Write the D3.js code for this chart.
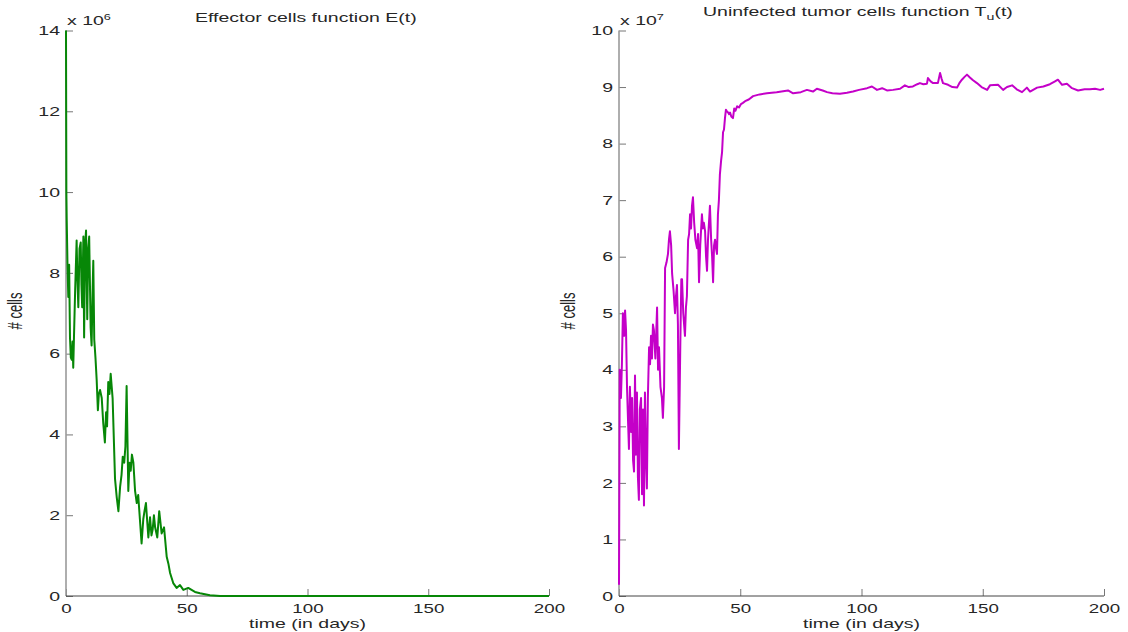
<!DOCTYPE html>
<html>
<head>
<meta charset="utf-8">
<script src="https://cdn.jsdelivr.net/npm/d3@7"></script>
<style>
  body { margin: 0; background: #fff; }
  svg text { font-family: "Liberation Sans", Arial, sans-serif; fill: #262626; }
</style>
</head>
<body>
<svg width="1128" height="632"></svg>
<script>
// x ticks shared by both panels
const xTicks = [0, 50, 100, 150, 200];

// Effector cells E(t), values in units of 1e6
const eTime = [0, 0.15, 0.3, 0.6, 0.95, 1.3, 1.65, 2.0, 2.4, 2.7, 3.0, 3.3, 3.8, 4.4, 4.7, 5.1, 5.6, 6.1, 6.4, 6.7,
  7.0, 7.2, 7.5, 7.9, 8.3, 8.8, 9.2, 9.6, 10.2, 10.6, 11.0, 11.3, 11.7, 12.2, 12.7, 13.2, 13.6, 14.1, 14.8, 15.4,
  16.1, 16.6, 17.0, 17.5, 18.0, 18.5, 19.3, 20.3, 21.0, 21.7, 22.4, 23.0, 23.5, 24.1, 24.6, 25.1, 25.8, 26.3, 26.8, 27.3,
  27.9, 28.6, 29.3, 29.9, 30.6, 31.3, 32.0, 32.5, 33.1, 34.1, 34.8, 35.4, 35.9, 36.4, 36.9, 37.8, 38.6, 39.6, 40.6, 41.7,
  42.4, 43.1, 44.4, 45.8, 47.2, 48.6, 50.6, 53.4, 55.5, 59.6, 63.8, 200];
const eCells = [14, 10, 9.3, 8.25, 7.4, 8.2, 6.4, 5.9, 5.85, 6.3, 5.65, 6.4, 7.6, 8.8, 7.9, 7.15, 8.6, 8.75, 7.7, 7.15,
  8.2, 8.9, 6.4, 8.7, 9.05, 6.85, 8.6, 8.9, 6.65, 6.2, 7.5, 8.3, 6.35, 5.9, 5.35, 4.6, 5.0, 5.1, 4.9, 4.3,
  3.8, 4.55, 4.2, 5.3, 5.0, 5.5, 4.9, 2.9, 2.45, 2.1, 2.7, 3.0, 3.45, 3.3, 3.7, 5.2, 2.6, 3.3, 3.1, 3.5,
  3.3, 2.6, 2.3, 2.5, 1.9, 1.3, 1.9, 2.1, 2.3, 1.45, 1.95, 1.5, 1.65, 2.0, 1.7, 1.45, 2.1, 1.55, 1.7, 0.97,
  0.8, 0.57, 0.32, 0.2, 0.27, 0.15, 0.2, 0.1, 0.07, 0.02, 0, 0];
const eTicks = [0, 2, 4, 6, 8, 10, 12, 14];

// Uninfected tumor cells Tu(t), values in units of 1e7
const tTime = [0, 0.3, 0.8, 1.2, 1.6, 2.1, 2.5, 2.9, 3.3, 3.8, 4.1, 4.5, 5.0, 5.4, 5.8, 6.2, 6.6, 7.0, 7.4, 7.8,
  8.2, 8.6, 9.1, 9.5, 9.9, 10.3, 10.7, 11.1, 11.5, 11.9, 12.4, 12.8, 13.2, 13.6, 14.0, 14.4, 15.0, 15.7, 16.1, 16.5,
  17.1, 17.7, 18.1, 18.6, 19.0, 19.6, 20.2, 20.6, 21.0, 21.5, 21.9, 22.5, 23.1, 23.5, 23.9, 24.3, 24.7, 25.3, 25.7, 26.0,
  26.5, 27.2, 27.6, 28.0, 28.5, 28.9, 29.3, 29.7, 30.1, 30.5, 31.0, 31.5, 32.2, 32.6, 33.0, 33.5, 34.2, 34.6, 35.0, 35.5,
  35.9, 36.3, 36.7, 37.1, 37.5, 38.0, 38.4, 38.8, 39.2, 39.6, 40.0, 40.4, 40.8, 41.2, 41.6, 42.1, 42.5, 42.9, 43.3, 43.7,
  44.1, 44.5, 45.0, 45.4, 45.8, 46.3, 47.0, 47.5, 48.0, 48.7, 49.5, 50.3, 51.1, 52.0, 53.5, 55.3, 58, 61, 65, 69.7,
  71.8, 75, 77.5, 80, 81.6, 84, 85.8, 88, 91.1, 94, 96.5, 99, 102.3, 104.3, 106.4, 108.5, 110.5, 113, 115.9, 117.9,
  119.5, 121.2, 123, 124.1, 125.5, 127, 127.4, 128.5, 129.5, 131.5, 132.4, 133, 133.6, 135.7, 137.5, 139.4, 140.5, 141.4, 142.5, 143.5,
  144.7, 146, 147.6, 149.5, 151.8, 153, 156.3, 158.4, 160, 162.1, 164, 166.2, 168.2, 169.5, 172.4, 175, 177.7, 179.8, 181, 182.7,
  184.7, 186.8, 189.3, 192, 194.2, 196.3, 198.4, 200];
const tCells = [0.2, 4.0, 3.5, 4.1, 5.0, 4.6, 5.05, 4.7, 3.7, 3.0, 2.6, 3.7, 2.9, 3.5, 2.4, 2.2, 3.9, 2.5, 3.6, 2.1,
  1.7, 3.3, 3.5, 1.8, 3.3, 1.6, 3.6, 2.5, 1.9, 3.5, 4.4, 4.1, 4.6, 4.2, 4.8, 4.7, 4.2, 5.1, 4.0, 4.4,
  3.7, 3.5, 3.15, 3.7, 5.8, 5.9, 6.05, 6.3, 6.45, 6.2, 5.7, 5.4, 5.0, 5.3, 5.5, 4.8, 2.6, 4.5, 5.6, 5.6,
  5.0, 4.6, 5.1, 5.3, 6.3, 6.4, 6.75, 6.5, 6.9, 7.05, 6.6, 6.3, 6.15, 6.4, 5.55, 6.2, 6.75, 6.5, 6.6, 6.45,
  6.0, 5.75, 6.3, 6.6, 6.9, 6.3, 6.0, 5.55, 6.2, 6.3, 6.15, 6.05, 6.75, 7.0, 7.45, 7.7, 7.85, 8.2, 8.25, 8.45,
  8.6, 8.57, 8.55, 8.52, 8.55, 8.48, 8.45, 8.62, 8.58, 8.66, 8.64, 8.7, 8.72, 8.75, 8.78, 8.84, 8.87, 8.89, 8.91, 8.94,
  8.89, 8.91, 8.95, 8.92, 8.97, 8.94, 8.91, 8.89, 8.88, 8.9, 8.92, 8.95, 8.98, 9.01, 8.95, 8.98, 8.94, 8.95, 8.97, 9.03,
  9.0, 9.01, 9.05, 9.07, 9.05, 9.06, 9.16, 9.1, 9.07, 9.07, 9.25, 9.15, 9.07, 9.04, 9.0, 8.99, 9.08, 9.13, 9.18, 9.22,
  9.17, 9.12, 9.07, 9.0, 8.95, 9.03, 9.04, 8.95, 9.0, 9.03, 8.96, 8.91, 8.99, 8.92, 8.99, 9.01, 9.05, 9.1, 9.13, 9.04,
  9.06, 8.98, 8.94, 8.96, 8.96, 8.97, 8.95, 8.97];
const tTicks = [0, 1, 2, 3, 4, 5, 6, 7, 8, 9, 10];

var svg = d3.select("svg");
var SX = 1.5; // the reference text is stretched sideways

function drawPanel(p) {
  var g = svg.append("g");
  var x = d3.scaleLinear().domain([0, 200]).range([p.x0, p.x1]);
  var y = d3.scaleLinear().domain([0, p.yMax]).range([596, 30.5]);

  // y axis, ticks pointing inward
  var ya = g.append("g")
    .attr("transform", "translate(" + p.x0 + ",0)")
    .call(d3.axisLeft(y).tickValues(p.yTicks).tickSizeInner(-7).tickSizeOuter(0).tickFormat(d3.format("d")));
  ya.select(".domain").remove();
  ya.selectAll("line").attr("stroke", "#777");
  ya.selectAll("text")
    .attr("x", -6 / SX)
    .attr("transform", "scale(" + SX + ",1)")
    .style("font-size", "13px")
    .style("fill", "#262626");

  // x axis
  var xa = g.append("g")
    .attr("transform", "translate(0,596)")
    .call(d3.axisBottom(x).tickValues(xTicks).tickSizeInner(-7).tickSizeOuter(0).tickPadding(8));
  xa.select(".domain").remove();
  xa.selectAll("line").attr("stroke", "#777");
  xa.selectAll("text")
    .attr("transform", "scale(" + SX + ",1)")
    .style("font-size", "12.5px")
    .style("fill", "#262626");

  g.append("line")
    .attr("x1", p.x0).attr("x2", p.x0).attr("y1", 596).attr("y2", 30.5)
    .attr("stroke", "#9a9a9a").attr("stroke-width", 1.6);
  g.append("line")
    .attr("x1", p.x0).attr("x2", p.x1).attr("y1", 596).attr("y2", 596)
    .attr("stroke", "#444").attr("stroke-width", 1);

  // the series
  var pts = p.times.map(function(t, i) { return [t, p.values[i]]; });
  g.append("path")
    .datum(pts)
    .attr("fill", "none")
    .attr("stroke", p.color)
    .attr("stroke-width", 2)
    .attr("stroke-linejoin", "round")
    .attr("d", d3.line().x(function(d) { return x(d[0]); }).y(function(d) { return y(d[1]); }));

  // exponent "x 10^n"
  var ex = g.append("text")
    .attr("transform", "translate(" + (p.x0 + 1) + ",25) scale(" + SX + ",1)")
    .style("font-size", "13px");
  ex.append("tspan").text("x 10");
  ex.append("tspan").attr("dy", -5).style("font-size", "8.5px").text(p.exp);

  // x label
  g.append("text")
    .attr("transform", "translate(" + ((p.x0 + p.x1) / 2) + ",628) scale(" + SX + ",1)")
    .attr("text-anchor", "middle")
    .style("font-size", "13px")
    .text("time (in days)");

  // y label
  g.append("text")
    .attr("transform", "translate(" + p.ylabX + ",311) rotate(-90) scale(1," + SX + ")")
    .attr("text-anchor", "middle")
    .style("font-size", "13px")
    .text("# cells");

  // title
  var tt = g.append("text")
    .attr("transform", "translate(" + p.titleX + "," + p.titleY + ") scale(" + SX + ",1)")
    .style("font-size", "13px");
  tt.append("tspan").text(p.title);
  if (p.sub) {
    tt.append("tspan").attr("dy", 4).style("font-size", "9.5px").text(p.sub);
    tt.append("tspan").attr("dy", -4).text(p.tail);
  }
}

drawPanel({ x0: 66, x1: 549, times: eTime, values: eCells, yMax: 14, yTicks: eTicks,
  color: "#078707", exp: "6", ylabX: 22, titleX: 195, titleY: 22, title: "Effector cells function E(t)" });
drawPanel({ x0: 619, x1: 1104, times: tTime, values: tCells, yMax: 10, yTicks: tTicks,
  color: "#c400c8", exp: "7", ylabX: 575, titleX: 703, titleY: 16, title: "Uninfected tumor cells function T",
  sub: "u", tail: "(t)" });
</script>
</body>
</html>
